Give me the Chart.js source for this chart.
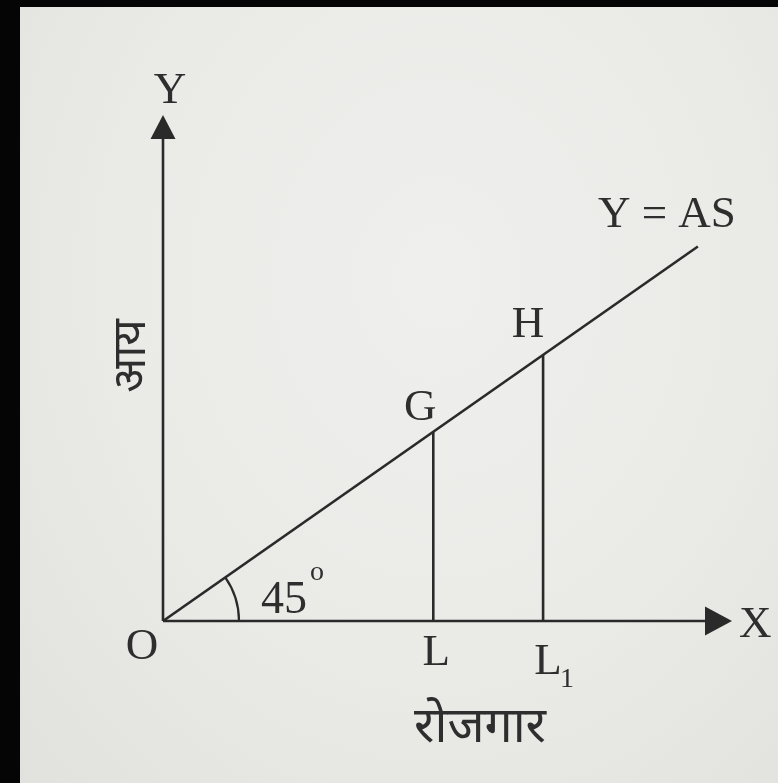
<!DOCTYPE html>
<html>
<head>
<meta charset="utf-8">
<script src="https://cdn.jsdelivr.net/npm/chart.js@4.4.1/dist/chart.umd.min.js"></script>
<style>
    html, body { margin: 0; padding: 0; background: #050505; width: 778px; height: 783px; overflow: hidden; }
    .paper {
        position: absolute; left: 20px; top: 7px; right: 0; bottom: 0;
        background: radial-gradient(ellipse at 55% 35%, #efefed 0%, #eaeae7 55%, #e1e1de 100%);
    }
    #chart { position: absolute; left: 0; top: 0; }
</style>
</head>
<body>
<div class="paper"></div>
<canvas id="chart" width="778" height="783"></canvas>
<script>
// Aggregate supply line Y = AS through the origin
const asX = [0, 94];
const asY = [0, 74];
// employment levels and the income
const empLabels = ['L', 'L'];
const empSubs = ['', '1'];
const empX = [47.5, 66.8];
const pointLabels = ['G', 'H'];
const pointY = [37.4, 52.6];
const axisMax = 100;

const INK = '#2a2a2a';
const SERIF = '"Liberation Serif", "DejaVu Serif", serif';
const DEVA = '"Noto Sans Devanagari", "Noto Serif Devanagari", "Lohit Devanagari", "FreeSerif", "Noto Sans", sans-serif';

const datasets = [{
    data: asX.map((x, i) => ({ x: x, y: asY[i] })),
    borderColor: INK, borderWidth: 2.6, pointRadius: 0, showLine: true
}];
empX.forEach((x, i) => {
    datasets.push({
        data: [{ x: x, y: 0 }, { x: x, y: pointY[i] }],
        borderColor: INK, borderWidth: 2.6, pointRadius: 0, showLine: true
    });
});

function arrow(ctx, x, y, dir) {
    // dir: 'right' or 'up'
    ctx.beginPath();
    if (dir === 'right') {
        ctx.moveTo(x, y); ctx.lineTo(x - 27, y - 14.5); ctx.lineTo(x - 27, y + 14.5);
    } else {
        ctx.moveTo(x, y); ctx.lineTo(x - 12.5, y + 24); ctx.lineTo(x + 12.5, y + 24);
    }
    ctx.closePath();
    ctx.fill();
}

const diagram = {
    id: 'diagram',
    afterDatasetsDraw(chart) {
        const ctx = chart.ctx;
        const xs = chart.scales.x, ys = chart.scales.y;
        const ox = xs.getPixelForValue(0), oy = ys.getPixelForValue(0);
        const xEnd = xs.getPixelForValue(axisMax), yEnd = ys.getPixelForValue(axisMax);
        ctx.save();
        ctx.strokeStyle = INK; ctx.fillStyle = INK; ctx.lineWidth = 2.6;
        // axes
        ctx.beginPath();
        ctx.moveTo(ox, oy); ctx.lineTo(xEnd - 20, oy);
        ctx.moveTo(ox, oy); ctx.lineTo(ox, yEnd + 20);
        ctx.stroke();
        arrow(ctx, xEnd, oy, 'right');
        arrow(ctx, ox, yEnd, 'up');

        // 45 degree arc
        const ang = Math.atan2(ys.getPixelForValue(asY[1]) - oy, xs.getPixelForValue(asX[1]) - ox);
        ctx.lineWidth = 2.2;
        ctx.beginPath();
        ctx.arc(ox, oy, 76, ang, 0);
        ctx.stroke();

        ctx.fillStyle = '#2e2e2e';
        ctx.textAlign = 'center'; ctx.textBaseline = 'alphabetic';
        ctx.font = '45px ' + SERIF;
        ctx.fillText('Y', ox + 7, yEnd - 12);
        ctx.textAlign = 'left';
        ctx.fillText('X', xEnd + 7, oy + 16);
        ctx.textAlign = 'center';
        ctx.fillText('O', ox - 21, oy + 38);
        ctx.fillText('Y = AS', xs.getPixelForValue(asX[1]) - 31, ys.getPixelForValue(asY[1]) - 20);

        empX.forEach((x, i) => {
            const px = xs.getPixelForValue(x), py = ys.getPixelForValue(pointY[i]);
            ctx.font = '45px ' + SERIF;
            ctx.textAlign = 'center';
            ctx.fillText(empLabels[i], px + 3 + i * 2, oy + 44 + i * 9);
            if (empSubs[i]) {
                ctx.font = '28px ' + SERIF;
                ctx.fillText(empSubs[i], px + 24, oy + 66);
            }
            ctx.font = '45px ' + SERIF;
            ctx.fillText(pointLabels[i], px - 13 - i * 2, py - 12 - i * 6);
        });

        // angle label
        ctx.textAlign = 'left';
        ctx.font = '46px ' + SERIF;
        ctx.fillText('45', ox + 98, oy - 8);
        ctx.font = '28px ' + SERIF;
        ctx.fillText('o', ox + 147, oy - 41);

        // Hindi axis titles
        ctx.font = '50px ' + DEVA;
        ctx.textAlign = 'center'; ctx.textBaseline = 'middle';
        ctx.fillText('रोजगार', 480, oy + 112);
        ctx.font = '46px ' + DEVA;
        ctx.translate(136, 356);
        ctx.rotate(-Math.PI / 2);
        ctx.fillText('आय', 0, 0);
        ctx.restore();
    }
};

new Chart(document.getElementById('chart'), {
    type: 'scatter',
    data: { datasets: datasets },
    options: {
        responsive: false,
        animation: false,
        devicePixelRatio: 1,
        layout: { padding: { left: 163, right: 778 - 732, top: 115, bottom: 783 - 621 } },
        scales: {
            x: { type: 'linear', min: 0, max: axisMax, display: false },
            y: { type: 'linear', min: 0, max: axisMax, display: false }
        },
        plugins: { legend: { display: false }, tooltip: { enabled: false } }
    },
    plugins: [diagram]
});
</script>
</body>
</html>
